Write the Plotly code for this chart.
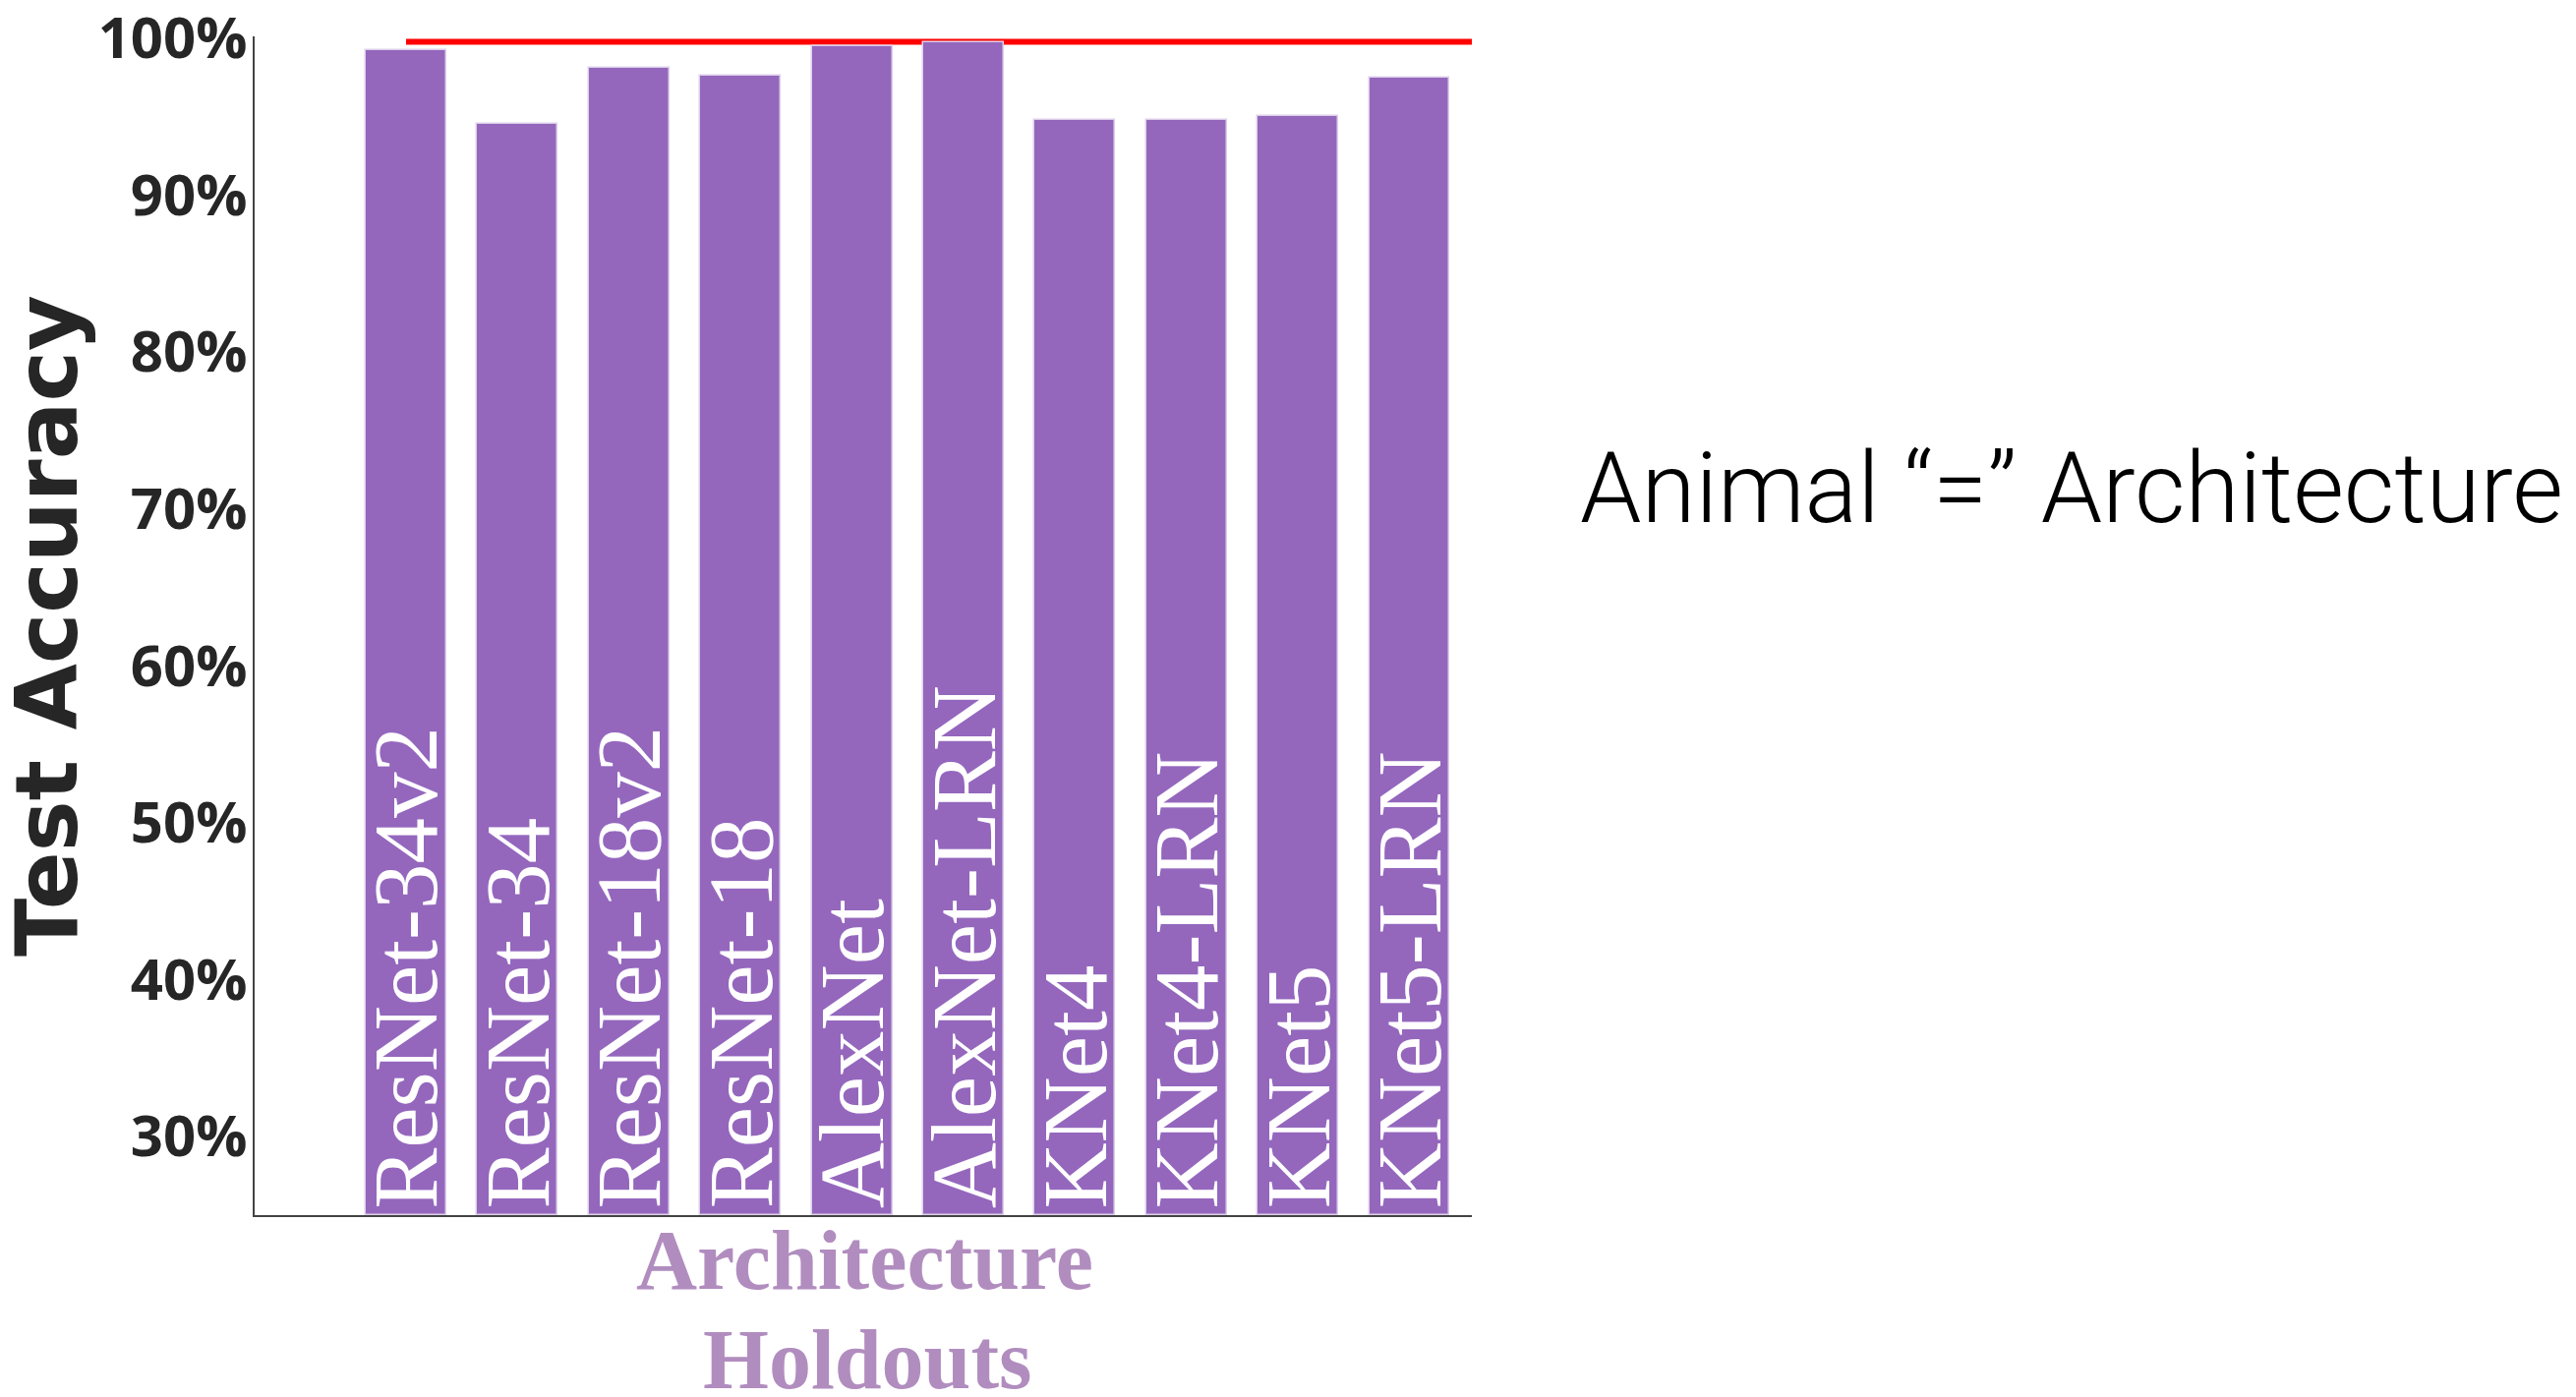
import plotly.graph_objects as go

# Holdout architectures and their test accuracies (%)
architectures = ["ResNet-34v2", "ResNet-34", "ResNet-18v2", "ResNet-18", "AlexNet",
                 "AlexNet-LRN", "KNet4", "KNet4-LRN", "KNet5", "KNet5-LRN"]
accuracy = [99.2, 94.5, 98.1, 97.6, 99.5, 99.7, 94.8, 94.8, 95.0, 97.5]

# Reference accuracy drawn as a horizontal line
reference_accuracy = 99.75

y_ticks = [30, 40, 50, 60, 70, 80, 90, 100]
y_tick_labels = ["30%", "40%", "50%", "60%", "70%", "80%", "90%", "100%"]

W, H = 2620, 1421
L, R, T, B = 259, 1497, 37, 1236

positions = list(range(len(architectures)))
x_range = [-1.358, 9.56]
y_range = [25, 100.1]

BAR = "#9467bd"
TITLE_PURPLE = "#b18dbf"
DARK = "#262626"

fig = go.Figure()

fig.add_trace(go.Bar(
    x=positions,
    y=[a - y_range[0] for a in accuracy],
    base=y_range[0],
    width=0.723,
    marker=dict(color=BAR, line=dict(color="#ddd0ea", width=1.5)),
    hoverinfo="skip",
    showlegend=False,
))

# Reference line from the first bar's centre to the right edge of the axes
fig.add_shape(type="line", xref="x", yref="y", layer="below",
              x0=positions[0], x1=x_range[1],
              y0=reference_accuracy, y1=reference_accuracy,
              line=dict(color="#ff0000", width=6))

annotations = []
# Rotated names written inside each bar, starting from the bottom
for xi, name in zip(positions, architectures):
    annotations.append(dict(
        x=xi, y=y_range[0] + 0.3, xref="x", yref="y",
        text=name, showarrow=False, textangle=-90,
        xanchor="center", yanchor="bottom",
        font=dict(family="Liberation Serif", size=93, color="white"),
    ))


def px_x(p):
    return (p - L) / (R - L)


def px_y(p):
    return (B - p) / (B - T)


annotations.append(dict(
    x=px_x(48), y=px_y(637), xref="paper", yref="paper",
    text="<b>Test Accuracy</b>", showarrow=False, textangle=-90,
    xanchor="center", yanchor="middle",
    font=dict(family="DejaVu Sans", size=87, color=DARK),
))
annotations.append(dict(
    x=px_x(880), y=px_y(1282), xref="paper", yref="paper",
    text="<b>Architecture</b>", showarrow=False,
    xanchor="center", yanchor="middle",
    font=dict(family="Liberation Serif", size=86, color=TITLE_PURPLE),
))
annotations.append(dict(
    x=px_x(882), y=px_y(1383), xref="paper", yref="paper",
    text="<b>Holdouts</b>", showarrow=False,
    xanchor="center", yanchor="middle",
    font=dict(family="Liberation Serif", size=86, color=TITLE_PURPLE),
))
annotations.append(dict(
    x=px_x(1605), y=px_y(497), xref="paper", yref="paper",
    text="Animal \u201c=\u201d Architecture", showarrow=False,
    xanchor="left", yanchor="middle",
    font=dict(family="Roboto", size=100, color="black", weight=300),
))

fig.update_layout(
    width=W, height=H,
    margin=dict(l=L, r=W - R, t=T, b=H - B, pad=0, autoexpand=False),
    paper_bgcolor="white", plot_bgcolor="white",
    bargap=0,
    showlegend=False,
    annotations=annotations,
    xaxis=dict(range=x_range, showticklabels=False, ticks="", showgrid=False,
               zeroline=False, showline=True, linecolor="#444444", linewidth=2,
               automargin=False, fixedrange=True),
    yaxis=dict(range=y_range, tickvals=y_ticks, ticktext=y_tick_labels,
               ticks="", showgrid=False, zeroline=False,
               showline=True, linecolor="#444444", linewidth=2,
               ticklabelstandoff=-6, ticklabeloverflow="allow",
               tickfont=dict(family="Open Sans", size=58, color=DARK, weight=700),
               automargin=False, fixedrange=True),
)

fig.write_html("out.html")
